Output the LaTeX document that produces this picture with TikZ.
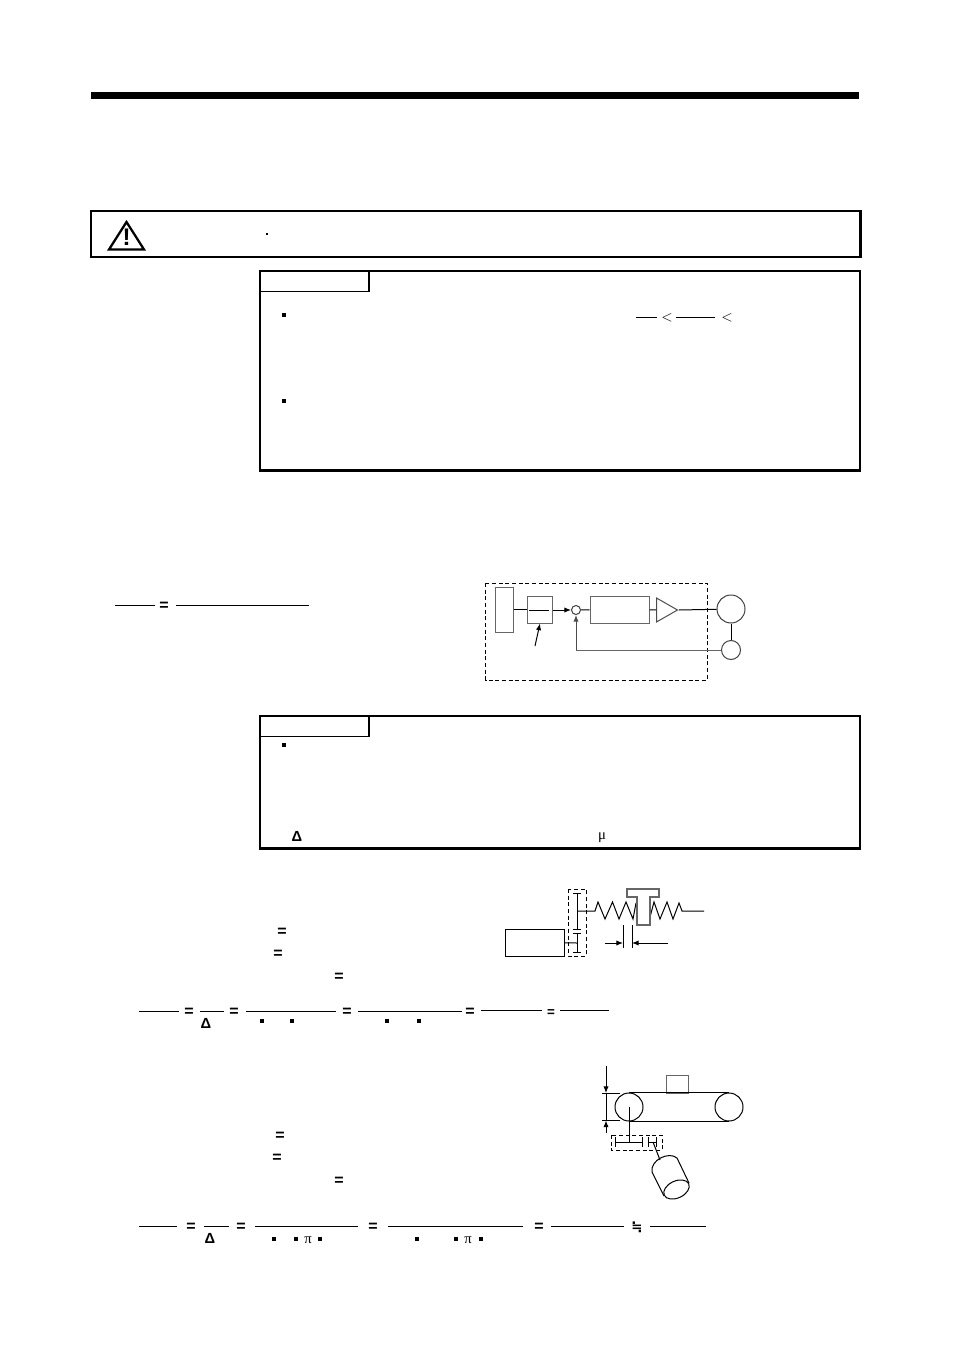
\documentclass[tikz,border=0pt]{standalone}
\usepackage{fontspec}
\newfontfamily\signfont{Liberation Sans}
\newfontfamily\greekfont{Liberation Serif}
\newfontfamily\almostfont{DejaVu Sans}
\usetikzlibrary{shapes.geometric,arrows.meta}
\begin{document}
\begin{tikzpicture}
[x=0.75pt,y=-0.75pt,
  linedecorate/.style={-,line width=0.75pt},%
  arrowdecorate/.style={-{Latex[length=5pt,width=4pt]},line width=0.75pt},%
  greydecorate/.style={-,line width=0.75pt,draw=black!60},%
  framedecorate/.style={-,line width=1.9pt},%
  dashdecorate/.style={-,line width=0.75pt,dashed,dash pattern=on 3pt off 2pt},%
  boxdecorate/.style={shape=rectangle,draw=black!60,line width=0.75pt,inner sep=0pt},%
  circledecorate/.style={shape=circle,draw=black!75,line width=0.75pt,inner sep=0pt},%
  dotdecorate/.style={shape=rectangle,fill=black,inner sep=0pt,minimum size=2.4pt},%
  signdecorate/.style={inner sep=0pt,yshift=-1.2pt,font=\signfont\bfseries\fontsize{12}{12}\selectfont},%
  greekdecorate/.style={inner sep=0pt,font=\greekfont\fontsize{11}{11}\selectfont},%
  deltadecorate/.style={inner sep=0pt,font=\signfont\bfseries\fontsize{11}{11}\selectfont}]
\useasboundingbox (0,0) rectangle (954,1351);
%% page rule and frames
\fill (91,92) rectangle (859,99);
\draw[framedecorate] (91,211) rectangle (860.5,257);
\draw[framedecorate] (260,271) rectangle (860,470.5);
\draw[framedecorate] (260,716) rectangle (860,848.5);
\foreach \y in {271,716} {
  \draw[line width=1.3pt] (369,\y) -- (369,\y+20.5);
  \draw[linedecorate] (260,\y+20.5) -- (369.5,\y+20.5);
}
%% warning sign
\draw[line width=1.7pt,line join=miter] (126.5,222) -- (144,249.5) -- (109,249.5) -- cycle;
\node (mark) at (126.5,237) [inner sep=0pt,font=\signfont\bfseries\fontsize{18}{18}\selectfont] {!};
%% dots
\node (d1) at (267,234) [dotdecorate,minimum size=1.6pt] {};
\foreach \dotname/\x/\y in {d2/284/315, d3/284/401, d4/284/745,
  d5/262/1021, d6/292/1021, d7/387/1021, d8/419/1021,
  d9/274/1239, d10/296/1239, d11/320/1239, d12/417/1239, d13/456/1239, d14/481/1239} {
  \node (\dotname) at (\x,\y) [dotdecorate] {};
}
%% fraction bars
\foreach \y/\xa/\xb in {318/636/657, 318/676/715, 605/115/155, 605/176/309,
  1011/139/179, 1011/200/224, 1011/246/336, 1011/358/462, 1010/481/542, 1010/560/609,
  1226/139/177, 1226/204/229, 1226/255/358, 1226/388/523, 1226/551/624, 1226/650/706} {
  \draw[linedecorate] (\xa,\y) -- (\xb,\y);
}
%% signs
\foreach \signname/\x/\y in {s1/164/605, s2/282/931, s3/278/953, s4/339/976,
  s5/189/1011, s6/234/1011, s7/347/1011, s8/470/1011,
  s9/280/1135, s10/277/1157, s11/339/1180,
  s12/191/1226, s13/241/1226, s14/373/1226, s15/539/1226} {
  \node (\signname) at (\x,\y) [signdecorate] {=};
}
\node (s16) at (551,1013) [inner sep=0pt,font=\signfont\bfseries\fontsize{10}{10}\selectfont] {=};
\node (s17) at (637,1227) [inner sep=0pt,font=\almostfont\bfseries\fontsize{10}{10}\selectfont] {≒};
\node (lt1) at (667,318) [inner sep=0pt,font=\fontsize{11}{11}\selectfont] {$<$};
\node (lt2) at (727,318) [inner sep=0pt,font=\fontsize{11}{11}\selectfont] {$<$};
\foreach \symname/\x/\y in {del1/297/836, del2/206/1023, del3/210/1238} {
  \node (\symname) at (\x,\y) [deltadecorate] {Δ};
}
\node (mu1) at (602,838) [greekdecorate] {μ};
\node (pi1) at (308,1240) [greekdecorate] {π};
\node (pi2) at (468,1240) [greekdecorate] {π};
%% servo block nodes
\draw[dashdecorate] (485.5,583) rectangle (707,680);
\node (front) at (504,609.5) [boxdecorate,minimum width=13.5pt,minimum height=33.75pt] {};
\node (gain) at (539.5,609.5) [boxdecorate,minimum width=18.75pt,minimum height=20.25pt] {};
\node (sum) at (576,610) [circledecorate,minimum size=6.75pt] {};
\node (comp) at (619.5,609.5) [boxdecorate,minimum width=44.25pt,minimum height=20.25pt] {};
\node (amp) at (656,610) [isosceles triangle,isosceles triangle stretches,shape border rotate=0,
  anchor=lower side,draw=black!70,line width=0.75pt,inner sep=0pt,minimum width=18pt,minimum height=15.75pt] {};
\node (motor) at (731,609) [circledecorate,minimum size=21pt] {};
\node (coder) at (731,650) [circledecorate,minimum size=14.25pt] {};
\coordinate (gainin) at (529,610);
\coordinate (gainout) at (549,610);
\coordinate (pointer) at (535,646);
\coordinate (corner) at (576,650);
%% servo block lines
\path
\foreach \startnode/\endnode in {front/gain, sum/comp, comp/amp, motor/coder, gainin/gainout} {
  (\startnode) edge[linedecorate] (\endnode)
};
\draw[linedecorate] (amp.apex) -- (motor);
\draw[arrowdecorate] (gain.east |- sum) -- (sum);
\draw[arrowdecorate] (pointer) -- (gain.south -| 540,0);
\draw[greydecorate] (coder) -- (corner);
\draw[arrowdecorate,draw=black!70] (corner) -- (sum);
%% gear and screw
\draw[dashdecorate] (568,889) rectangle (586,956);
\node (drive) at (534.5,942.5) [boxdecorate,draw=black,minimum width=44.25pt,minimum height=20.25pt] {};
\coordinate (shaftlow) at (577,943);
\coordinate (shaftup) at (577,911);
\draw[linedecorate] (drive) -- (shaftlow);
\foreach \ya/\yb in {893/929, 933/952} {
  \draw[linedecorate] (577,\ya) -- (577,\yb);
  \draw[linedecorate] (573,\ya) -- (581,\ya);
  \draw[linedecorate] (573,\yb) -- (581,\yb);
}
\draw[linedecorate] (shaftup) -- (595,911) -- (598,902) -- (605,919) -- (612.5,902) -- (619,919)
  -- (626,902) -- (633,919) -- (636,903);
\draw[linedecorate] (650,917) -- (654,902) -- (660,919) -- (667,902) -- (673,919) -- (679,903)
  -- (682,911) -- (704,911);
\draw[line width=1pt,draw=black!60,fill=white] (637,897) -- (627,897) -- (627,889) -- (659,889)
  -- (659,897) -- (650,897) -- (650,925) -- (637,925) -- cycle;
\foreach \x in {623,632} {
  \draw[linedecorate] (\x,925) -- (\x,948);
}
\draw[arrowdecorate] (605,943) -- (623,943);
\draw[arrowdecorate] (668,943) -- (632,943);
%% belt
\node (pulleya) at (629,1107) [circledecorate,draw=black,minimum size=21pt] {};
\node (pulleyb) at (729,1107) [circledecorate,draw=black,minimum size=21pt] {};
\node (load) at (677,1084) [boxdecorate,minimum width=16.5pt,minimum height=13.5pt] {};
\draw[linedecorate] (pulleya.north) -- (pulleyb.north);
\draw[linedecorate] (pulleya.south) -- (pulleyb.south);
\foreach \y in {1093,1120.5} {
  \draw[linedecorate] (602,\y) -- (620,\y);
}
\draw[linedecorate] (606,1093) -- (606,1120.5);
\draw[arrowdecorate] (606,1066) -- (606,1093);
\draw[arrowdecorate] (606,1133) -- (606,1120.5);
\draw[dashdecorate] (611,1135) rectangle (662,1150);
\draw[linedecorate] (629,1107) -- (629,1142);
\foreach \xa/\xb in {615/642, 648/656} {
  \draw[linedecorate] (\xa,1142) -- (\xb,1142);
  \draw[linedecorate] (\xa,1137) -- (\xa,1147);
  \draw[linedecorate] (\xb,1137) -- (\xb,1147);
}
\draw[linedecorate] (653,1142) -- (660,1160);
\draw[linedecorate] (652,1172) .. controls (650,1160) and (669,1151) .. (677,1158);
\draw[linedecorate] (652,1172) -- (664,1196);
\draw[linedecorate] (677,1158) -- (689,1183);
\draw[linedecorate,rotate around={25:(676.5,1189.5)}] (676.5,1189.5) ellipse [x radius=13.5,y radius=8.5];
\end{tikzpicture}
\end{document}
